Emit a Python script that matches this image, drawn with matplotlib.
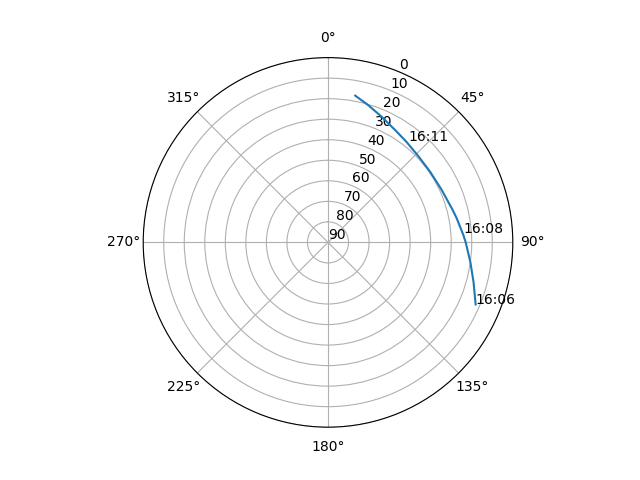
import numpy as np
import matplotlib
matplotlib.use("Agg")
import matplotlib.pyplot as plt

# satellite pass, azimuth / elevation in degrees
azimuth = [112.8, 105.2, 97.8, 90.0, 86.9, 79.4, 75.4, 65.0, 55.3, 46.5,
           38.0, 30.8, 23.2, 16.4, 10.5]
elevation = [12.0, 16.56, 20.04, 22.93, 23.98, 26.23, 27.27, 29.04, 29.53, 29.18,
             27.9, 26.24, 23.5, 20.37, 17.3]

# time stamps along the track
label_times = ["16:06", "16:08", "16:11"]
label_az = [112.8, 86.2, 38.6]
label_el = [12.0, 24.0, 26.9]

fig = plt.figure(figsize=(6.4, 4.8), dpi=100)
ax = fig.add_subplot(111, projection="polar")
ax.set_theta_zero_location("N")
ax.set_theta_direction(-1)

ax.plot(np.radians(azimuth), elevation)
for t, a, e in zip(label_times, label_az, label_el):
    ax.text(np.radians(a), e, t)

ax.set_ylim(90, 0)
ax.set_yticks(range(0, 91, 10))

fig.savefig("out.png")
